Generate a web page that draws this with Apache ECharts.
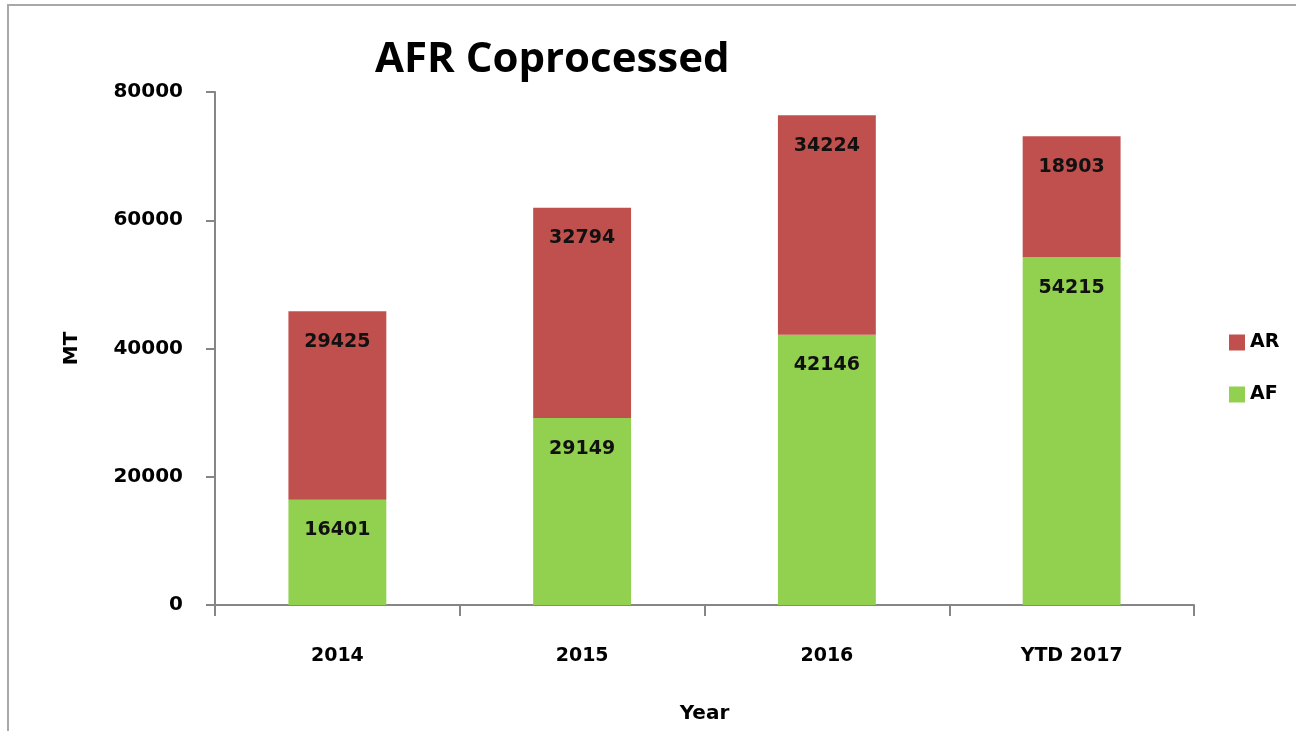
<!DOCTYPE html>
<html>
<head>
<meta charset="utf-8">
<script src="https://cdn.jsdelivr.net/npm/echarts@6/dist/echarts.min.js"></script>
<style>
  html, body { margin: 0; padding: 0; background: #fff; }
  #chart { width: 1296px; height: 731px; }
</style>
</head>
<body>
<div id="chart"></div>
<script>
// data
var years = ['2014', '2015', '2016', 'YTD 2017'];
var afValues = [16401, 29149, 42146, 54215];
var arValues = [29425, 32794, 34224, 18903];
var yTicks = [0, 20000, 40000, 60000, 80000];

var boldFont = 'DejaVu Sans';

var chart = echarts.init(document.getElementById('chart'));

var labelStyle = {
  show: true,
  position: 'insideTop',
  distance: 21,
  color: '#111',
  fontFamily: boldFont,
  fontWeight: 'bold',
  fontSize: 19
};

var option = {
  animation: false,
  backgroundColor: '#fff',
  graphic: [{
    type: 'rect',
    shape: { x: 8, y: 5, width: 1400, height: 800 },
    style: { fill: 'none', stroke: '#a8a8a8', lineWidth: 2 }
  }],
  title: {
    text: 'AFR Coprocessed',
    left: 370,
    top: 34,
    textStyle: {
      fontFamily: 'Open Sans',
      fontWeight: 'bold',
      fontSize: 42,
      color: '#000'
    }
  },
  legend: {
    orient: 'vertical',
    left: 1224,
    top: 328,
    itemWidth: 16,
    itemHeight: 16,
    itemGap: 33,
    icon: 'rect',
    data: ['AR', 'AF'],
    textStyle: {
      fontFamily: boldFont,
      fontWeight: 'bold',
      fontSize: 19,
      color: '#000'
    }
  },
  grid: {
    left: 215,
    right: 102,
    top: 92,
    bottom: 126,
    outerBoundsMode: 'none'
  },
  xAxis: {
    type: 'category',
    data: years,
    name: 'Year',
    nameLocation: 'middle',
    nameGap: 99,
    nameTextStyle: {
      fontFamily: boldFont,
      fontWeight: 'bold',
      fontSize: 20,
      color: '#000'
    },
    axisLine: { lineStyle: { color: '#868686', width: 2 } },
    axisTick: { show: true, length: 11, lineStyle: { color: '#868686', width: 2 } },
    axisLabel: {
      margin: 42,
      fontFamily: boldFont,
      fontWeight: 'bold',
      fontSize: 19,
      color: '#000'
    }
  },
  yAxis: {
    type: 'value',
    min: yTicks[0],
    max: yTicks[yTicks.length - 1],
    interval: 20000,
    name: 'MT',
    nameLocation: 'middle',
    nameRotate: 90,
    nameGap: 133,
    nameTextStyle: {
      fontFamily: boldFont,
      fontWeight: 'bold',
      fontSize: 20,
      color: '#000'
    },
    splitLine: { show: false },
    axisLine: { show: true, lineStyle: { color: '#868686', width: 2 } },
    axisTick: { show: true, length: 9, lineStyle: { color: '#868686', width: 2 } },
    axisLabel: {
      margin: 32,
      fontFamily: boldFont,
      fontWeight: 'bold',
      fontSize: 20,
      color: '#000',
      formatter: function (v) { return String(v); }
    }
  },
  series: [
    {
      name: 'AF',
      type: 'bar',
      stack: 'total',
      barWidth: '40%',
      itemStyle: { color: '#92D050' },
      label: labelStyle,
      data: afValues
    },
    {
      name: 'AR',
      type: 'bar',
      stack: 'total',
      barWidth: '40%',
      itemStyle: { color: '#C0504D' },
      label: labelStyle,
      data: arValues
    }
  ]
};

chart.setOption(option);
</script>
</body>
</html>
